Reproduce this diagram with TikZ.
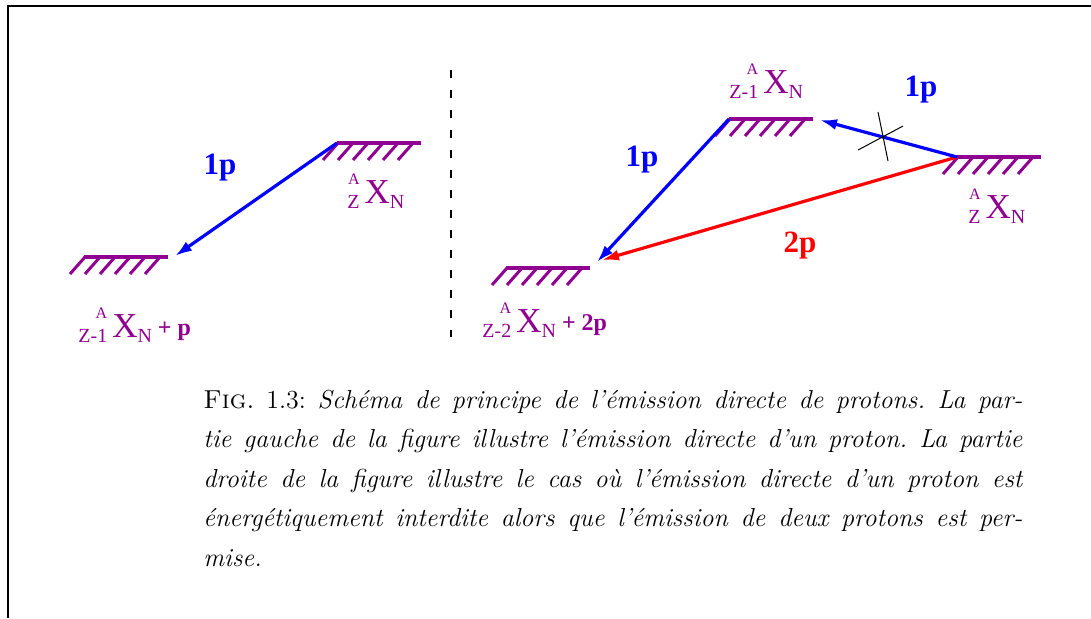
\documentclass[tikz,border=0pt]{standalone}
\usepackage{fontspec}
\usepackage{xcolor}
\usepackage{tikz}
\usetikzlibrary{calc,arrows.meta}
\newfontfamily\schemafont{Liberation Serif}
\definecolor{bleux}{HTML}{0000FF}
\definecolor{rougex}{HTML}{FF0000}
\definecolor{violx}{HTML}{900090}
\newcommand{\noyau}[1]{%
  \raisebox{-2.5pt}{\fontsize{10}{10}\selectfont #1}%
  \llap{\raisebox{9.5pt}{\fontsize{8}{8}\selectfont A}}%
  \kern2.5pt{\fontsize{17.5}{17.5}\selectfont X}%
  \raisebox{-2.5pt}{\fontsize{10}{10}\selectfont N}}
\tikzset{
  niv/.style={line width=2.2pt,violx},
  hach/.style={line width=1.5pt,violx},
  fl/.style={-{Latex[length=8.5pt,width=5.5pt]},line width=1.6pt},
  nom/.style={font=\schemafont,text=violx,inner sep=0pt,anchor=base west},
  etiq/.style={font=\schemafont\bfseries\fontsize{15.5}{15.5}\selectfont,inner sep=0pt},
  sep/.style={line width=0.8pt,dash pattern=on 4pt off 6pt},
  croix/.style={line width=0.5pt},
  cadre/.style={line width=1pt}
}
\begin{document}
\begin{tikzpicture}[x=0.5pt,y=-0.5pt]
\useasboundingbox (0,0) rectangle (1091,618);
\draw[cadre] (8,618) -- (8,6) -- (1091,6);
% niveaux
\coordinate (gA) at (337,143);
\coordinate (gB) at (84,257);
\coordinate (dA) at (957,157);
\coordinate (dB) at (729,119);
\coordinate (dC) at (506,268);
\foreach \n in {gA,gB,dA,dB,dC}{
  \draw[niv] (\n) -- ++(84,0);
  \foreach \i in {0,...,5}
    \draw[hach] ($(\n)+(1+15*\i,0)$) -- ++(-15,17);
}
% separation
\draw[sep] (451,70) -- (451,337);
% emissions
\coordinate (gBt) at (175,256);
\coordinate (dBt) at (820,120);
\coordinate (dCb) at (597,262);
\coordinate (dCr) at (602,260);
\draw[fl,bleux] (gA) -- (gBt);
\draw[fl,bleux] (dB) -- (dCb);
\draw[fl,rougex] (dA) -- (dCr);
\draw[fl,bleux] (dA) -- (dBt);
% interdit
\coordinate (x1) at ($(dA)!0.54!(dBt)$);
\draw[croix] ($(x1)+(-5,-25)$) -- ($(x1)+(5,24)$);
\draw[croix] ($(x1)+(-25,13)$) -- ($(x1)+(20,-11)$);
% noyaux
\node[nom] (ngA) at (347,203) {\noyau{Z}};
\node[nom] (ngB) at (78,337) {\noyau{Z-1}\raisebox{1pt}{\bfseries\fontsize{12}{12}\selectfont\ + p}};
\node[nom] (ndB) at (729,93) {\noyau{Z-1}};
\node[nom] (ndA) at (968,218) {\noyau{Z}};
\node[nom] (ndC) at (482,332) {\noyau{Z-2}\raisebox{1pt}{\bfseries\fontsize{12}{12}\selectfont\ + 2p}};
\node[etiq,text=bleux] (p1g) at (220,168) {1p};
\node[etiq,text=bleux] (p1h) at (921,90) {1p};
\node[etiq,text=bleux] (p1d) at (642,160) {1p};
\node[etiq,text=rougex] (p2) at (800,246) {2p};
% legende
\node[anchor=base west,inner sep=0pt,font=\fontsize{13}{19.75}\selectfont] (legende) at (203,408)
  {\parbox[t]{409.5pt}{\frenchspacing\textsc{Fig.}~1.3: \itshape Sch\'ema de principe de l'\'emission directe de protons. La par-\linebreak
  tie gauche de la figure illustre l'\'emission directe d'un proton. La partie\linebreak
  droite de la figure illustre le cas o\`u l'\'emission directe d'un proton est\linebreak
  \'energ\'etiquement interdite alors que l'\'emission de deux protons est per-\linebreak
  mise.}};
\end{tikzpicture}
\end{document}
